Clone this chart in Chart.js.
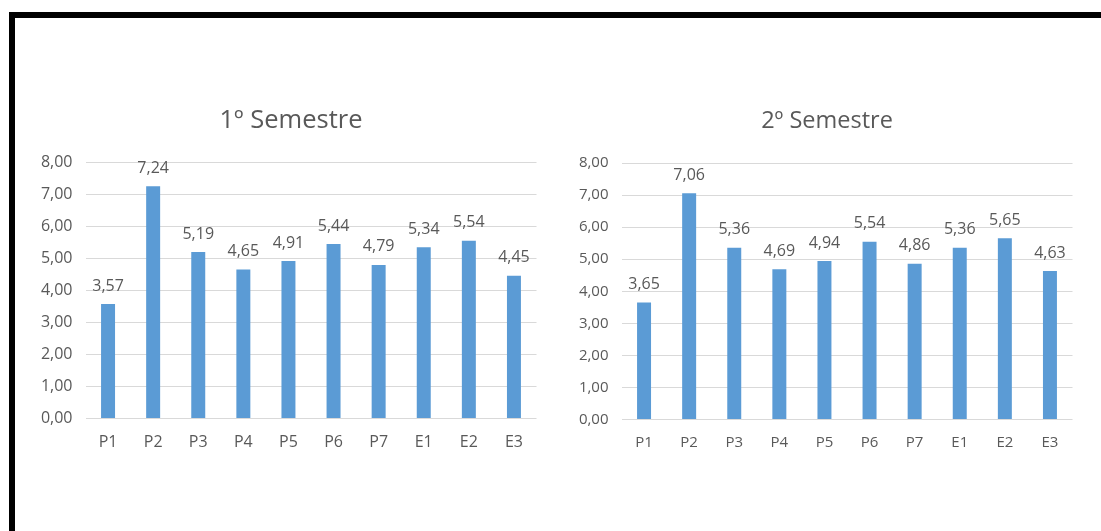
<!DOCTYPE html>
<html>
<head>
<meta charset="utf-8">
<script src="https://cdn.jsdelivr.net/npm/chart.js@4"></script>
<style>
  body { margin: 0; background: #fff; width: 1101px; height: 531px; overflow: hidden; position: relative; }
  .marco { position: absolute; left: 9px; top: 12px; right: 0; bottom: 0; border-top: 6px solid #000; border-left: 6px solid #000; }
  canvas { position: absolute; }
</style>
</head>
<body>
<div class="marco"></div>
<canvas id="semestre1" width="510" height="364" style="left:30px;top:95px"></canvas>
<canvas id="semestre2" width="510" height="364" style="left:566px;top:96px"></canvas>
<script>
// notas por item, cada semestre
const categorias = ['P1', 'P2', 'P3', 'P4', 'P5', 'P6', 'P7', 'E1', 'E2', 'E3'];
const notasSemestre1 = [3.57, 7.24, 5.19, 4.65, 4.91, 5.44, 4.79, 5.34, 5.54, 4.45];
const notasSemestre2 = [3.65, 7.06, 5.36, 4.69, 4.94, 5.54, 4.86, 5.36, 5.65, 4.63];
const ticksY = [0, 1, 2, 3, 4, 5, 6, 7, 8];

const gris = '#595959';
const fuente = "'Open Sans', sans-serif";

function coma(v) {
  return v.toFixed(2).replace('.', ',');
}

// valores arriba de cada barra
const etiquetas = {
  id: 'etiquetas',
  afterDatasetsDraw(chart) {
    const ctx = chart.ctx;
    ctx.save();
    ctx.fillStyle = gris;
    ctx.font = '16px ' + fuente;
    ctx.textAlign = 'center';
    ctx.textBaseline = 'alphabetic';
    chart.getDatasetMeta(0).data.forEach((bar, i) => {
      ctx.fillText(coma(chart.data.datasets[0].data[i]), bar.x, bar.y - 13.5);
    });
    ctx.restore();
  }
};

// titulo un poco corrido a la derecha del centro del canvas
const tituloPropio = {
  id: 'tituloPropio',
  afterDraw(chart, args, opts) {
    const ctx = chart.ctx;
    ctx.save();
    ctx.fillStyle = gris;
    ctx.font = opts.size + 'px ' + fuente;
    ctx.textAlign = 'center';
    ctx.textBaseline = 'middle';
    ctx.fillText(opts.text, opts.x, opts.y);
    ctx.restore();
  }
};

function grafico(id, titulo, datos, tamTitulo, tamTicks) {
  return new Chart(document.getElementById(id).getContext('2d'), {
    type: 'bar',
    data: {
      labels: categorias,
      datasets: [{
        data: datos,
        backgroundColor: '#5B9BD5',
        borderWidth: 0,
        barPercentage: 0.31,
        categoryPercentage: 1.0
      }]
    },
    options: {
      responsive: false,
      devicePixelRatio: 1,
      animation: false,
      layout: { padding: { left: 0, right: 3.5, top: 67, bottom: 0 } },
      scales: {
        x: {
          grid: { display: false, drawTicks: false },
          border: { display: false },
          ticks: { color: gris, font: { family: fuente, size: tamTicks }, padding: 14 },
          afterFit: (s) => { s.height = 40.5; }
        },
        y: {
          min: ticksY[0],
          max: ticksY[ticksY.length - 1],
          afterBuildTicks: (s) => { s.ticks = ticksY.map(v => ({ value: v })); },
          grid: { color: '#d9d9d9', lineWidth: 1, drawTicks: false },
          border: { display: false },
          ticks: {
            color: gris,
            font: { family: fuente, size: tamTicks },
            padding: 13,
            callback: (v) => coma(v)
          },
          afterFit: (s) => { s.width = 55.5; }
        }
      },
      plugins: {
        legend: { display: false },
        tooltip: { enabled: false },
        title: { display: false },
        tituloPropio: { text: titulo, size: tamTitulo, x: 261, y: 25.5 }
      }
    },
    plugins: [etiquetas, tituloPropio]
  });
}

const grafico1 = grafico('semestre1', '1º Semestre', notasSemestre1, 25.5, 16);
const grafico2 = grafico('semestre2', '2º Semestre', notasSemestre2, 23.5, 15);
</script>
</body>
</html>
